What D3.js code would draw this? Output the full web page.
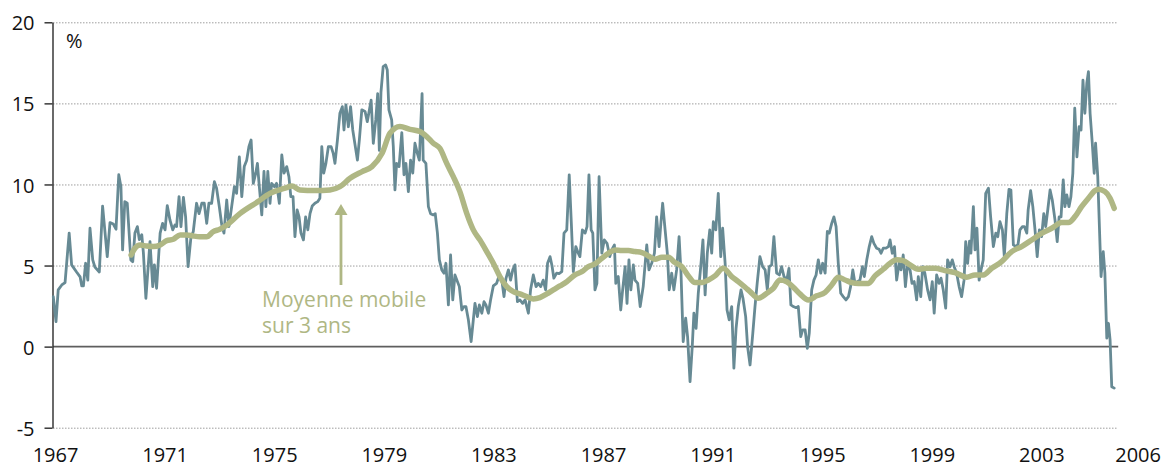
<!DOCTYPE html>
<html>
<head>
	<meta charset="utf-8">
	<title>Inflation - moyenne mobile</title>
	<style>
		body { margin: 0; background: #fff; }
	</style>
</head>
<body>
	<svg id="canvas" width="1176" height="467"></svg>
	<script type="text/javascript" src="https://cdn.jsdelivr.net/npm/d3@7"></script>
	<script type="text/javascript">
		// tick labels
		let yearTicks = [1967, 1971, 1975, 1979, 1983, 1987, 1991, 1995, 1999, 2003, 2006];
		let valueTicks = [-5, 0, 5, 10, 15, 20];

		// annual change, %
		let series = [
			[1967.01,3.08],[1967.11,1.54],[1967.19,3.5],[1967.32,3.8],[1967.44,3.95],[1967.59,7.0],[1967.68,5.04],[1967.86,4.6],[1967.99,4.3],[1968.05,3.74],[1968.11,3.74],[1968.19,5.14],[1968.27,4.1],[1968.35,7.3],[1968.45,5.35],[1968.53,4.9],[1968.69,4.6],[1968.81,8.67],[1968.98,5.55],[1969.08,7.65],[1969.20,7.56],[1969.30,7.24],[1969.40,10.6],[1969.48,9.86],[1969.54,5.96],[1969.62,8.94],[1969.71,8.84],[1969.84,5.35],[1969.91,5.24],[1969.99,7.0],
			[1970.08,7.4],[1970.15,6.6],[1970.24,6.9],[1970.30,5.76],[1970.39,2.98],[1970.54,6.47],[1970.64,3.7],[1970.70,5.04],[1970.78,3.6],[1970.91,7.0],[1971.00,7.6],[1971.09,7.2],[1971.17,8.7],[1971.27,7.8],[1971.37,7.2],[1971.45,7.5],[1971.51,7.4],[1971.60,9.25],[1971.67,7.4],[1971.76,9.2],[1971.84,8.0],[1971.93,4.93],[1972.03,6.68],[1972.12,7.1],[1972.24,8.84],[1972.33,8.2],[1972.43,8.84],[1972.52,8.84],[1972.61,7.6],[1972.69,8.84],[1972.79,8.84],[1972.89,10.17],[1972.97,9.77],[1973.07,8.63],[1973.16,7.5],[1973.24,7.0],[1973.34,9.04],[1973.42,7.4],
			[1973.62,9.86],[1973.70,9.45],[1973.80,11.7],[1973.89,9.25],[1973.98,11.1],[1974.07,11.5],[1974.15,12.33],[1974.23,12.74],[1974.31,10.07],[1974.40,10.7],[1974.46,11.3],[1974.53,9.86],[1974.62,8.12],[1974.70,10.8],[1974.77,8.63],[1974.84,10.8],[1974.92,8.84],[1974.98,10.07],[1975.08,9.86],[1975.16,10.07],[1975.26,8.84],[1975.35,11.82],[1975.43,10.7],[1975.53,11.1],[1975.61,10.48],[1975.68,9.25],[1975.76,9.25],[1975.83,6.78],[1975.91,8.43],[1975.98,8.0],[1976.05,7.0],[1976.14,6.58],[1976.22,8.0],[1976.30,7.2],[1976.38,8.2],[1976.46,8.67],[1976.56,8.84],[1976.66,8.94],[1976.74,9.15],[1976.81,12.33],[1976.88,10.7],[1976.96,11.3],[1977.05,12.33],[1977.15,12.33],[1977.23,11.9],[1977.29,11.3],[1977.38,12.74],[1977.47,14.39],[1977.56,14.8],[1977.62,13.36],[1977.69,14.9],[1977.78,13.56],[1977.86,14.8],[1977.94,13.36],[1978.11,11.5],[1978.18,12.74],[1978.27,14.6],[1978.39,14.5],[1978.47,13.87],[1978.61,15.2],[1978.69,12.54],[1978.78,13.98],[1978.85,15.6],[1978.91,12.1],[1978.97,15.7],[1979.05,17.26],[1979.14,17.37],[1979.20,17.06],[1979.26,14.6],[1979.36,13.98],[1979.42,12.33],[1979.48,9.66],[1979.54,11.3],[1979.63,11.1],[1979.73,13.2],[1979.81,10.6],
			[1979.88,11.3],[1979.97,9.56],[1980.05,11.5],[1980.13,10.7],[1980.21,12.54],[1980.30,11.9],[1980.37,11.5],[1980.47,15.6],[1980.51,11.5],[1980.61,11.3],[1980.70,8.63],[1980.78,8.2],[1980.88,8.12],[1980.95,8.2],[1981.03,7.0],[1981.10,5.35],[1981.19,4.73],[1981.27,4.53],[1981.34,5.14],[1981.43,2.57],[1981.51,5.65],[1981.59,2.88],[1981.67,4.42],[1981.83,3.7],[1981.92,2.26],[1982.00,2.47],[1982.07,2.47],[1982.16,1.65],[1982.26,0.31],[1982.34,1.65],[1982.40,2.67],[1982.49,1.85],[1982.56,2.57],[1982.65,2.06],[1982.73,2.77],[1982.80,2.57],[1982.89,2.06],[1982.97,2.88],[1983.07,3.74],[1983.19,3.9],[1983.29,4.42],[1983.38,4.1],[1983.46,3.08],[1983.53,4.2],[1983.62,4.73],[1983.70,4.1],[1983.78,4.73],[1983.86,5.04],[1983.95,2.77],[1984.04,2.88],[1984.14,2.67],[1984.23,2.88],[1984.35,2.06],[1984.43,3.5],[1984.53,4.42],[1984.63,3.7],[1984.71,3.9],[1984.80,3.7],[1984.89,4.1],[1984.98,3.5],
			[1985.05,5.14],[1985.14,5.55],[1985.21,5.0],[1985.28,4.22],[1985.38,4.53],[1985.47,4.5],[1985.57,4.62],[1985.65,7.0],[1985.75,7.2],[1985.84,10.59],[1985.92,7.5],[1985.99,4.62],[1986.08,6.17],[1986.17,5.76],[1986.23,5.55],[1986.32,7.2],[1986.42,7.0],[1986.49,7.4],[1986.56,10.59],[1986.64,7.2],[1986.70,7.0],[1986.78,3.5],[1986.85,3.9],[1986.93,10.48],[1987.03,5.76],[1987.12,6.58],[1987.22,6.37],[1987.32,5.55],[1987.40,6.0],[1987.49,6.27],[1987.54,3.9],[1987.63,4.32],[1987.72,2.26],[1987.79,3.5],[1987.88,4.93],[1987.95,2.67],[1988.02,5.35],[1988.09,3.5],[1988.18,5.04],[1988.24,4.1],[1988.34,3.9],[1988.43,2.47],[1988.54,3.7],[1988.67,6.27],[1988.75,4.73],[1988.85,5.14],[1988.95,5.76],[1989.03,8.0],[1989.12,6.17],[1989.19,7.7],[1989.25,8.84],[1989.34,7.2],[1989.42,5.76],[1989.49,3.5],[1989.58,4.53],[1989.66,3.5],[1989.76,4.73],[1989.85,6.78],[1989.92,4.53],
			[1990.00,0.31],[1990.09,1.75],[1990.16,0.62],[1990.25,-2.16],[1990.33,0.0],[1990.39,2.06],[1990.47,1.13],[1990.55,3.29],[1990.64,4.93],[1990.72,6.58],[1990.80,3.19],[1990.88,5.76],[1990.97,7.2],[1991.04,5.76],[1991.10,7.7],[1991.19,7.2],[1991.28,9.45],[1991.37,5.55],[1991.44,7.3],[1991.53,5.14],[1991.60,2.26],[1991.68,1.65],[1991.77,2.47],[1991.85,-1.33],[1991.93,1.13],[1992.01,2.47],[1992.11,3.5],[1992.18,3.0],[1992.28,1.85],[1992.35,0],[1992.44,-1.13],[1992.54,0.82],[1992.62,2.47],[1992.70,3.9],[1992.80,5.55],[1992.90,4.93],[1992.99,4.73],[1993.07,3.5],[1993.14,4.93],[1993.23,5.04],[1993.31,6.78],[1993.41,4.53],[1993.51,4.42],[1993.59,4.93],[1993.68,4.32],[1993.78,4.1],[1993.86,4.83],[1993.93,2.57],[1994.02,2.47],[1994.12,2.4],[1994.20,2.47],[1994.29,0.62],[1994.36,1.03],[1994.45,1.03],[1994.53,-0.1],[1994.60,0.82],[1994.69,3.5],[1994.77,4.1],[1994.85,4.42],[1994.93,5.35],
			[1995.02,4.53],[1995.09,5.14],[1995.18,4.53],[1995.26,7.1],[1995.33,7.0],[1995.42,7.6],[1995.50,8.0],[1995.58,7.4],[1995.66,5.14],[1995.75,3.29],[1995.84,3.08],[1995.94,2.88],[1996.03,3.08],[1996.11,3.7],[1996.19,4.73],[1996.27,3.9],[1996.36,4.0],[1996.45,4.1],[1996.54,4.93],[1996.61,4.32],[1996.70,5.35],[1996.79,6.17],[1996.88,6.78],[1996.96,6.37],[1997.06,6.07],[1997.15,6.0],[1997.22,5.76],[1997.30,6.07],[1997.40,6.07],[1997.49,6.17],[1997.55,6.58],[1997.63,5.76],[1997.71,6.17],[1997.79,4.1],[1997.88,5.14],[1997.95,4.73],[1998.03,5.65],[1998.11,3.7],[1998.18,4.93],[1998.28,4.73],[1998.35,3.9],[1998.43,4.01],[1998.52,2.88],[1998.58,4.32],[1998.67,3.08],[1998.74,4.93],[1998.82,4.53],[1998.92,3.5],[1999.01,2.88],[1999.09,4.01],[1999.16,2.06],[1999.25,4.42],[1999.34,3.9],[1999.41,4.22],[1999.49,3.5],[1999.58,2.37],[1999.65,5.35],[1999.74,4.93],[1999.82,5.35],[1999.89,4.93],[1999.98,4.53],
			[2000.07,3.7],[2000.16,3.08],[2000.25,4.1],[2000.31,6.47],[2000.38,5.14],[2000.45,6.5],[2000.50,5.76],[2000.59,8.63],[2000.65,5.96],[2000.72,7.3],[2000.80,4.1],[2000.87,4.73],[2000.95,5.35],[2001.04,9.45],[2001.14,9.77],[2001.22,8.0],[2001.32,6.17],[2001.41,7.0],[2001.48,6.78],[2001.56,7.7],[2001.65,7.2],[2001.72,5.55],[2001.81,8.2],[2001.89,9.7],[2001.96,9.66],[2002.05,6.27],[2002.14,6.17],[2002.22,6.3],[2002.29,7.2],[2002.38,7.4],[2002.45,7.4],[2002.54,7.0],[2002.59,8.43],[2002.68,9.62],[2002.76,8.63],[2002.84,7.2],[2002.92,5.55],[2003.00,7.2],[2003.08,6.78],[2003.16,8.2],[2003.23,7.4],[2003.31,8.5],[2003.39,9.66],[2003.47,9.04],[2003.57,7.8],[2003.65,6.47],[2003.72,8.0],[2003.79,8.0],[2003.87,10.28],[2003.93,8.63],[2004.00,9.35],[2004.08,8.63],[2004.15,9.25],[2004.22,10.69],[2004.29,14.7],[2004.37,11.7],[2004.45,13.56],[2004.52,13.36],[2004.59,16.44],[2004.66,14.39],[2004.73,16.24],[2004.79,16.95],[2004.85,14.39],[2004.93,12.54],[2005.00,10.69],[2005.05,12.54],[2005.13,10.48],[2005.25,4.32],[2005.33,5.86],[2005.39,4.53],[2005.46,0.52],[2005.52,1.44],[2005.58,0.41],[2005.64,-2.47],[2005.73,-2.56]
		];

		// moving average over 3 years, %
		let movingAvg = [
			[1969.85,5.65],[1969.99,6.07],[1970.18,6.27],[1970.42,6.2],[1970.66,6.17],[1970.91,6.27],[1971.15,6.54],[1971.39,6.62],[1971.64,6.89],[1971.88,6.89],[1972.12,6.82],[1972.36,6.78],[1972.61,6.78],[1972.85,7.09],[1973.09,7.24],[1973.31,7.45],[1973.82,8.2],[1974.48,8.94],[1974.92,9.45],[1975.47,9.77],[1975.72,9.9],[1976.01,9.66],[1976.56,9.62],[1977.11,9.66],[1977.47,9.86],[1977.84,10.38],[1978.28,10.79],[1978.64,11.1],[1979.01,11.92],[1979.30,13.16],[1979.66,13.58],
			[1980.03,13.4],[1980.39,13.26],[1980.64,12.95],[1980.88,12.54],[1981.12,12.23],[1981.37,11.3],[1981.61,10.48],[1981.85,9.56],[1982.10,8.22],[1982.34,7.2],[1982.58,6.58],[1982.83,5.86],[1983.07,5.14],[1983.31,4.32],[1983.56,3.7],[1983.80,3.39],[1984.04,3.25],[1984.29,3.08],[1984.53,2.94],[1984.77,3.02],[1985.02,3.25],[1985.26,3.5],[1985.50,3.74],[1985.75,4.0],[1986.05,4.42],[1986.30,4.62],[1986.54,4.93],[1986.78,5.1],[1987.03,5.45],[1987.27,5.76],[1987.51,5.96],[1987.76,5.92],[1988.00,5.92],[1988.24,5.86],[1988.49,5.8],[1988.73,5.59],[1988.97,5.39],[1989.22,5.51],[1989.46,5.51],[1989.70,5.18],[1989.95,4.93],
			[1990.19,4.36],[1990.43,3.95],[1990.68,3.95],[1990.92,4.11],[1991.16,4.36],[1991.46,4.83],[1991.77,4.32],[1992.01,4.01],[1992.26,3.66],[1992.44,3.39],[1992.74,2.98],[1993.05,3.29],[1993.29,3.6],[1993.53,4.11],[1993.78,4.0],[1994.02,3.66],[1994.26,3.25],[1994.57,2.88],[1994.87,3.13],[1995.18,3.35],[1995.42,3.8],[1995.66,4.28],[1995.91,4.11],[1996.15,3.95],[1996.39,3.9],[1996.76,3.9],[1997.00,4.36],[1997.30,4.77],[1997.55,5.14],[1997.79,5.35],[1998.03,5.3],[1998.28,5.04],[1998.58,4.77],[1998.89,4.83],[1999.19,4.83],[1999.55,4.69],[1999.92,4.56],
			[2000.35,4.28],[2000.65,4.42],[2000.95,4.42],[2001.26,4.83],[2001.62,5.24],[2001.99,5.86],[2002.35,6.17],[2002.72,6.58],[2003.08,6.99],[2003.45,7.3],[2003.81,7.65],[2004.06,7.65],[2004.30,8.02],[2004.54,8.63],[2004.79,9.15],[2005.03,9.62],[2005.15,9.7],[2005.39,9.56],[2005.58,9.15],[2005.73,8.53]
		];

		let teal = "#678a94";
		let olive = "#afb784";
		let fontFamily = "'Open Sans', 'DejaVu Sans', sans-serif";

		let svg = d3.select("#canvas");

		// Scales
		let x = d3.scaleLinear()
			.domain([1967, 2006])
			.range([53, 1121.6]);
		let y = d3.scaleLinear()
			.domain([-5, 20])
			.range([427.7, 22.3]);

		let plotRight = x(2005.84);

		// Grid
		svg.append("g")
			.selectAll("line")
			.data(valueTicks.filter(function(d){ return d !== 0; }))
			.join("line")
				.attr("x1", x(1967))
				.attr("x2", plotRight)
				.attr("y1", function(d){ return y(d) + 0.5; })
				.attr("y2", function(d){ return y(d) + 0.5; })
				.attr("stroke", "#9e9e9e")
				.attr("stroke-width", 1)
				.attr("stroke-dasharray", "1.5,1.5");

		svg.append("line")
			.attr("x1", x(1967))
			.attr("x2", plotRight + 1)
			.attr("y1", y(0))
			.attr("y2", y(0))
			.attr("stroke", "#5e5e5e")
			.attr("stroke-width", 1.6);

		// Axes
		let yAxis = svg.append("g")
			.attr("transform", "translate(52.5,0)")
			.call(d3.axisLeft(y).tickValues(valueTicks).tickSize(8).tickSizeOuter(0).tickPadding(10)
				.tickFormat(function(d){ return String(d); }));
		yAxis.attr("font-size", 20).attr("font-family", fontFamily);
		yAxis.select(".domain").attr("stroke", "#2a2a2a").attr("stroke-width", 1.4);
		yAxis.selectAll(".tick line").attr("stroke", "#2a2a2a").attr("stroke-width", 1.4);
		yAxis.selectAll(".tick text").attr("fill", "#111").attr("dy", "0.38em");

		let xAxis = svg.append("g")
			.attr("transform", "translate(0,437)")
			.call(d3.axisBottom(x).tickValues(yearTicks).tickSize(0).tickPadding(11)
				.tickFormat(function(d){ return String(d); }));
		xAxis.attr("font-size", 20).attr("font-family", fontFamily);
		xAxis.select(".domain").remove();
		xAxis.selectAll(".tick text")
			.attr("fill", "#111")
			.attr("dx", function(d){ return d === 2006 ? 16 : 2; });

		svg.append("text")
			.attr("x", x(1967) + 13)
			.attr("y", y(20) + 26)
			.attr("font-family", fontFamily)
			.attr("font-size", 20)
			.attr("fill", "#111")
			.text("%");

		// Lines
		let line = d3.line()
			.x(function(d){ return x(d[0]); })
			.y(function(d){ return y(d[1]); });

		svg.append("path")
			.datum(series)
			.attr("fill", "none")
			.attr("stroke", teal)
			.attr("stroke-width", 2.8)
			.attr("stroke-linejoin", "round")
			.attr("stroke-linecap", "round")
			.attr("d", line);

		svg.append("path")
			.datum(movingAvg)
			.attr("fill", "none")
			.attr("stroke", olive)
			.attr("stroke-width", 5.5)
			.attr("stroke-linejoin", "round")
			.attr("stroke-linecap", "round")
			.attr("d", line.curve(d3.curveMonotoneX));

		// Annotation
		let arrowX = x(1977.51);
		svg.append("line")
			.attr("x1", arrowX)
			.attr("x2", arrowX)
			.attr("y1", y(3.8))
			.attr("y2", y(8.2))
			.attr("stroke", olive)
			.attr("stroke-width", 2.8);
		svg.append("path")
			.attr("d", "M" + arrowX + "," + y(8.8) + "L" + (arrowX - 6.5) + "," + (y(8.8) + 11) + "L" + (arrowX + 6.5) + "," + (y(8.8) + 11) + "Z")
			.attr("fill", olive);

		let note = svg.append("text")
			.attr("font-family", fontFamily)
			.attr("font-size", 21)
			.attr("fill", olive);
		note.append("tspan")
			.attr("x", x(1974.63))
			.attr("y", y(2.47))
			.text("Moyenne mobile");
		note.append("tspan")
			.attr("x", x(1974.63))
			.attr("y", y(0.86))
			.text("sur 3 ans");
	</script>
</body>
</html>
